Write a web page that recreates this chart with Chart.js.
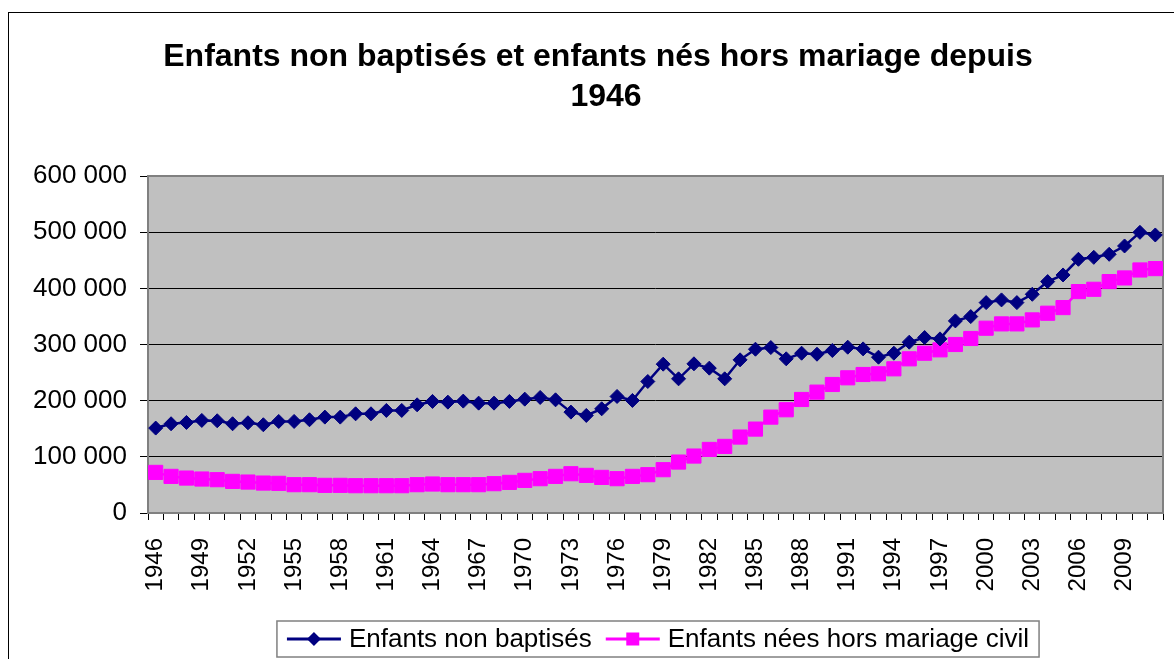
<!DOCTYPE html>
<html>
<head>
<meta charset="utf-8">
<script src="https://cdn.jsdelivr.net/npm/chart.js@4/dist/chart.umd.min.js"></script>
<style>
  body { margin: 0; background: #fff; overflow: hidden; }
  #frame { position: absolute; left: 8px; top: 12px; width: 1400px; height: 900px; border: 1px solid #000; }
  #chart { position: absolute; left: 0; top: 0; }
</style>
</head>
<body>
<div id="frame"></div>
<canvas id="chart" width="1174" height="659"></canvas>
<script>
const years = [
  "1946","1947","1948","1949","1950","1951","1952","1953","1954","1955",
  "1956","1957","1958","1959","1960","1961","1962","1963","1964","1965",
  "1966","1967","1968","1969","1970","1971","1972","1973","1974","1975",
  "1976","1977","1978","1979","1980","1981","1982","1983","1984","1985",
  "1986","1987","1988","1989","1990","1991","1992","1993","1994","1995",
  "1996","1997","1998","1999","2000","2001","2002","2003","2004","2005",
  "2006","2007","2008","2009","2010","2011"
];

const nonBaptises = [
  151200, 158900, 161200, 164800, 164200, 158900, 160600, 157100, 163000, 163000,
  166000, 170700, 170700, 176600, 176600, 182600, 182600, 192600, 198600, 197400,
  199200, 195600, 195600, 198600, 202700, 205700, 201500, 179600, 173700, 185500,
  207500, 200400, 234100, 265000, 238900, 265600, 257900, 238900, 272700, 291600,
  294600, 274500, 284500, 282700, 289300, 295200, 292200, 277400, 284500, 304100,
  312400, 310000, 342000, 349700, 374600, 379400, 374600, 389400, 412000, 423800,
  451700, 455200, 460600, 475400, 499700, 495000
];

const horsMariage = [
  72300, 65200, 62200, 60500, 59300, 56300, 55100, 53300, 52800, 50400,
  50400, 49200, 49200, 48600, 48600, 48600, 48600, 50400, 51600, 50400,
  50400, 50400, 52200, 54500, 58100, 61100, 65200, 69900, 67000, 63400,
  61100, 65200, 68200, 77100, 90700, 101400, 113200, 118600, 135200, 149400,
  170700, 183800, 202100, 215200, 228800, 240700, 246600, 247800, 256700, 274500,
  284500, 290500, 300000, 310700, 329000, 336700, 336700, 343800, 355700, 365700,
  394200, 398300, 412000, 418500, 432700, 435100
];

const yTicks = [0, 100000, 200000, 300000, 400000, 500000, 600000];
const titleLines = ["Enfants non baptisés et enfants nés hors mariage depuis", "1946"];

const FONT = '"Liberation Sans", Arial, sans-serif';

function fmt(v) {
  return String(v).replace(/\B(?=(\d{3})+(?!\d))/g, ' ');
}

// grey plot area + border
const plotArea = {
  id: 'plotArea',
  beforeDraw(chart) {
    const a = chart.chartArea, ctx = chart.ctx;
    ctx.save();
    ctx.fillStyle = '#c0c0c0';
    ctx.fillRect(a.left, a.top, a.right - a.left, a.bottom - a.top);
    ctx.restore();
  },
  beforeDatasetsDraw(chart) {
    const a = chart.chartArea, ctx = chart.ctx;
    ctx.save();
    ctx.strokeStyle = '#808080';
    ctx.lineWidth = 2;
    ctx.strokeRect(a.left, a.top, a.right - a.left, a.bottom - a.top);
    ctx.restore();
  }
};

// title drawn by hand so both lines sit like the original
const titleBlock = {
  id: 'titleBlock',
  afterDraw(chart) {
    const ctx = chart.ctx;
    ctx.save();
    ctx.fillStyle = '#000';
    ctx.font = 'bold 32px ' + FONT;
    ctx.textAlign = 'center';
    ctx.textBaseline = 'alphabetic';
    ctx.fillText(titleLines[0], 598, 66);
    ctx.fillText(titleLines[1], 606, 106);
    ctx.restore();
  }
};

// legend with line + marker samples inside a framed box
const boxLegend = {
  id: 'boxLegend',
  afterDraw(chart) {
    const ctx = chart.ctx;
    const sample = 54, gap = 8, itemGap = 14, padX = 10;
    const top = 621, h = 36, cx = 658;
    ctx.save();
    ctx.font = '26px ' + FONT;
    const items = chart.data.datasets.map(ds => ({
      ds: ds,
      w: sample + gap + ctx.measureText(ds.label).width
    }));
    let total = padX * 2 + itemGap * (items.length - 1);
    items.forEach(it => total += it.w);
    let x = cx - total / 2;
    ctx.fillStyle = '#fff';
    ctx.fillRect(x, top, total, h);
    ctx.strokeStyle = '#808080';
    ctx.lineWidth = 1.5;
    ctx.strokeRect(x, top, total, h);
    x += padX;
    const y = top + h / 2;
    items.forEach(it => {
      const c = it.ds.borderColor;
      ctx.strokeStyle = c;
      ctx.lineWidth = 3;
      ctx.beginPath();
      ctx.moveTo(x, y);
      ctx.lineTo(x + sample, y);
      ctx.stroke();
      ctx.fillStyle = c;
      const mx = x + sample / 2;
      ctx.beginPath();
      if (it.ds.pointStyle === 'rectRot') {
        ctx.moveTo(mx, y - 7);
        ctx.lineTo(mx + 7, y);
        ctx.lineTo(mx, y + 7);
        ctx.lineTo(mx - 7, y);
        ctx.closePath();
      } else {
        ctx.rect(mx - 6.5, y - 6.5, 13, 13);
      }
      ctx.fill();
      ctx.fillStyle = '#000';
      ctx.textAlign = 'left';
      ctx.textBaseline = 'middle';
      ctx.fillText(it.ds.label, x + sample + gap, y + 1);
      x += it.w + itemGap;
    });
    ctx.restore();
  }
};

new Chart(document.getElementById('chart'), {
  type: 'line',
  data: {
    labels: years,
    datasets: [{
      label: 'Enfants non baptisés',
      data: nonBaptises,
      borderColor: '#000080',
      backgroundColor: '#000080',
      borderWidth: 2.5,
      pointStyle: 'rectRot',
      pointRadius: 7,
      pointBorderWidth: 1,
      pointBackgroundColor: '#000080',
      pointBorderColor: '#000080',
      tension: 0,
      clip: false
    }, {
      label: 'Enfants nées hors mariage civil',
      data: horsMariage,
      borderColor: '#ff00ff',
      backgroundColor: '#ff00ff',
      borderWidth: 2.5,
      pointStyle: 'rect',
      pointRadius: 10,
      pointBorderWidth: 1,
      pointBackgroundColor: '#ff00ff',
      pointBorderColor: '#ff00ff',
      tension: 0,
      clip: false
    }]
  },
  options: {
    responsive: false,
    animation: false,
    layout: { padding: { top: 176, left: 0, right: 9, bottom: 46 } },
    plugins: {
      legend: { display: false },
      title: { display: false },
      tooltip: { enabled: false }
    },
    scales: {
      x: {
        offset: true,
        grid: {
          offset: true,
          drawOnChartArea: false,
          drawTicks: true,
          tickLength: 7,
          color: '#000'
        },
        border: { display: false },
        ticks: {
          autoSkip: false,
          minRotation: 90,
          maxRotation: 90,
          padding: 18,
          color: '#000',
          font: { family: FONT, size: 24 },
          callback: function(val, i) {
            return i % 3 === 0 ? years[i] : '';
          }
        },
        afterFit: function(s) {
          s.height = 100;
          s.paddingLeft = 0;
          s.paddingRight = 0;
        }
      },
      y: {
        min: 0,
        max: 600000,
        afterBuildTicks: function(s) {
          s.ticks = yTicks.map(v => ({ value: v }));
        },
        grid: {
          color: '#000',
          lineWidth: 1,
          drawTicks: true,
          tickLength: 8
        },
        border: { display: false },
        ticks: {
          padding: 13,
          color: '#000',
          font: { family: FONT, size: 26 },
          callback: function(v) { return fmt(v); }
        },
        afterFit: function(s) {
          s.width = 148;
          s.paddingTop = 0;
          s.paddingBottom = 0;
        }
      }
    }
  },
  plugins: [plotArea, titleBlock, boxLegend]
});
</script>
</body>
</html>
